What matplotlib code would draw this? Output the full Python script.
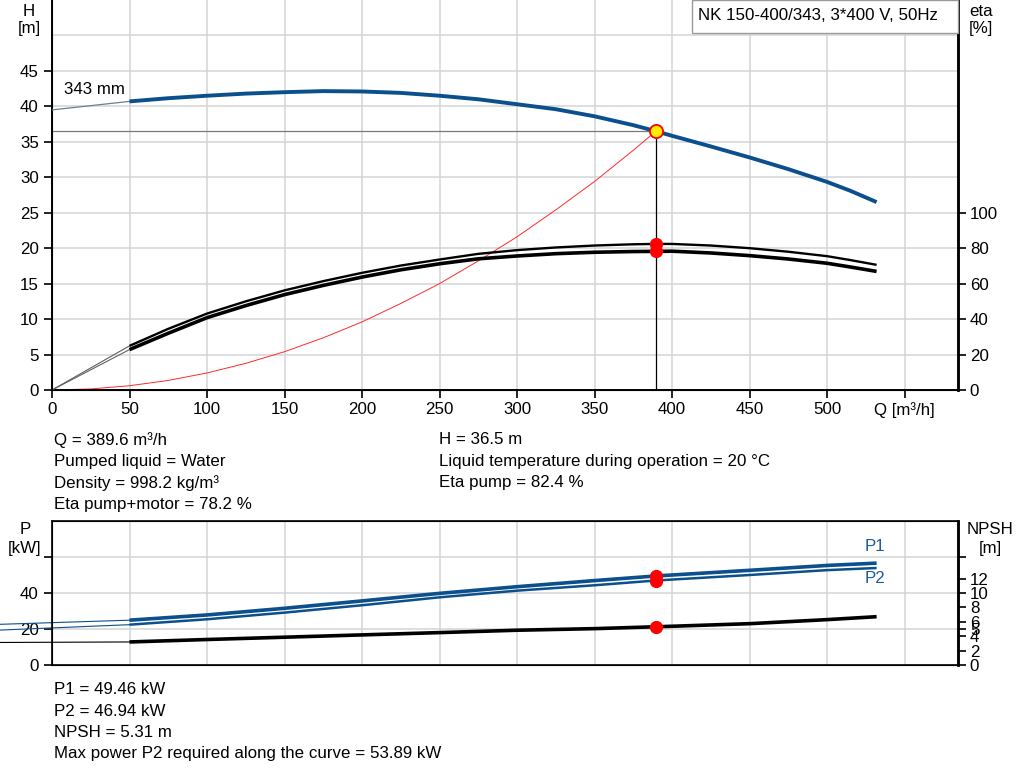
import matplotlib
matplotlib.use("Agg")
import matplotlib.pyplot as plt

plt.rcParams['font.family'] = ['Liberation Sans', 'DejaVu Sans']
FS = 12.2

# ---------------- data ----------------
q_ticks = [0, 50, 100, 150, 200, 250, 300, 350, 400, 450, 500, 550]
q_tick_labels = ['0', '50', '100', '150', '200', '250', '300', '350', '400', '450', '500', 'Q [m³/h]']

q_curve = [50, 75, 100, 125, 150, 175, 200, 225, 250, 275, 300, 325, 350, 375,
           389.6, 400, 425, 450, 475, 500, 515, 532]
head = [40.7, 41.15, 41.5, 41.8, 42.0, 42.15, 42.1, 41.9, 41.5, 41.0, 40.3, 39.6, 38.6, 37.35,
        36.5, 35.85, 34.35, 32.8, 31.15, 29.35, 28.1, 26.5]
eta_pump = [24.9, 34.5, 43.1, 50.0, 56.2, 61.4, 66.1, 70.2, 73.6, 76.8, 78.9, 80.4, 81.5, 82.2,
            82.4, 82.4, 81.5, 80.0, 78.0, 75.5, 73.3, 70.6]
eta_total = [22.8, 32.0, 40.8, 47.6, 53.8, 59.0, 63.7, 67.8, 71.2, 74.0, 75.6, 76.9, 77.7, 78.1,
             78.2, 78.3, 77.3, 75.8, 73.9, 71.5, 69.4, 66.9]

q_head_ext = [0, 50]
head_ext = [39.5, 40.7]
q_eta_ext = [0, 50]
eta_pump_ext = [0, 24.9]
eta_total_ext = [0, 22.8]

q_sys = [0, 25, 50, 75, 100, 125, 150, 175, 200, 225, 250, 275, 300, 325, 350, 375, 389.6]
h_sys = [0, 0.15, 0.6, 1.35, 2.4, 3.76, 5.4, 7.36, 9.6, 12.2, 15.0, 18.2, 21.6, 25.4, 29.4, 33.8, 36.5]

q_p = [50, 100, 150, 200, 250, 300, 350, 389.6, 450, 500, 532]
p1 = [24.9, 27.8, 31.5, 35.6, 39.8, 43.5, 46.9, 49.46, 52.6, 55.3, 56.6]
p2 = [22.4, 25.4, 29.1, 33.2, 37.6, 41.3, 44.3, 46.94, 50.0, 52.7, 53.89]
q_p_ext = [-33.5, 50]
p1_ext = [22.6, 24.9]
p2_ext = [19.4, 22.4]

q_npsh = [50, 100, 150, 200, 250, 300, 350, 389.6, 400, 450, 500, 532]
npsh = [3.2, 3.54, 3.86, 4.18, 4.5, 4.83, 5.05, 5.31, 5.38, 5.74, 6.3, 6.71]
npsh_ext = [3.13, 3.2]

duty_q = 389.6
duty_h = 36.5
duty_eta_pump = 82.4
duty_eta_total = 78.2
duty_p1 = 49.46
duty_p2 = 46.94
duty_npsh = 5.31

h_ticks = [0, 5, 10, 15, 20, 25, 30, 35, 40, 45]
eta_ticks = [0, 20, 40, 60, 80, 100]
p_ticks = [0, 20, 40, 60]
p_tick_labels = ['0', '20', '40', '']
npsh_ticks = [0, 2, 4, 5, 6, 8, 10, 12, 15]
npsh_tick_labels = ['0', '2', '4', '5', '6', '8', '10', '12', '']

title = 'NK 150-400/343, 3*400 V, 50Hz'
info_left_top = ['Q = 389.6 m³/h', 'Pumped liquid = Water', 'Density = 998.2 kg/m³',
                 'Eta pump+motor = 78.2 %']
info_right_top = ['H = 36.5 m', 'Liquid temperature during operation = 20 °C', 'Eta pump = 82.4 %']
info_bottom = ['P1 = 49.46 kW', 'P2 = 46.94 kW', 'NPSH = 5.31 m',
               'Max power P2 required along the curve = 53.89 kW']

BLUE = '#0b4f8c'
GRID = '#d2d4d6'
W, Hpx = 1024, 781

def fx(px):
    return px / W

def fy(py):
    return 1 - py / Hpx

fig = plt.figure(figsize=(10.24, 7.81), dpi=100)

XMAX = (958 - 52) / 1.55

# ---------------- top chart ----------------
ax = fig.add_axes([fx(52), fy(390), fx(958) - fx(52), fy(0) - fy(390)])
ax.set_xlim(0, XMAX)
ax.set_ylim(0, 55)
for q in q_ticks[1:]:
    ax.axvline(q, color=GRID, lw=1.1, zorder=0)
for h in h_ticks[1:] + [50]:
    ax.axhline(h, color=GRID, lw=1.1, zorder=0)

ax.set_xticks(q_ticks)
ax.set_xticklabels(q_tick_labels)
ax.set_yticks(h_ticks)
ax.tick_params(axis='both', direction='out', length=5.5, width=1.2, labelsize=FS, pad=3)
ax.tick_params(axis='y', pad=4)
for s in ['left', 'bottom']:
    ax.spines[s].set_linewidth(1.4)
ax.spines['top'].set_visible(False)
ax.spines['right'].set_linewidth(1.8)

ax2 = ax.twinx()
ax2.set_ylim(0, 220)
ax2.set_yticks(eta_ticks)
ax2.tick_params(axis='y', direction='out', length=5.5, width=1.2, labelsize=FS, pad=3)
ax2.spines['right'].set_linewidth(1.8)
ax2.spines['top'].set_visible(False)

# system curve
ax.plot(q_sys, h_sys, color='#ff2a2a', lw=0.7, zorder=2)
# eta curves
ax2.plot(q_eta_ext, eta_pump_ext, color='#606060', lw=0.8, zorder=2)
ax2.plot(q_eta_ext, eta_total_ext, color='#606060', lw=0.8, zorder=2)
ax2.plot(q_curve, eta_pump, color='black', lw=1.7, solid_capstyle='butt', zorder=3)
ax2.plot(q_curve, eta_total, color='black', lw=2.6, solid_capstyle='butt', zorder=3)
# head curve
ax2.plot(q_head_ext, [v * 4 for v in head_ext], color='#6a7f95', lw=0.9, zorder=3)
ax2.plot(q_curve, [v * 4 for v in head], color=BLUE, lw=2.8, solid_capstyle='butt', zorder=3)
# duty lines
ax.plot([0, duty_q], [duty_h, duty_h], color='#7a7a7a', lw=0.9, zorder=2)
ax.plot([duty_q, duty_q], [0, duty_h], color='black', lw=0.9, zorder=2)
ax2.plot([duty_q], [duty_eta_pump], 'o', color='#ff0000', ms=8.5, zorder=5)
ax2.plot([duty_q], [duty_eta_total], 'o', color='#ff0000', ms=8.5, zorder=5)
ax2.plot([duty_q], [duty_h * 4], 'o', mfc='#ffee00', mec='#ff0000', mew=1.3, ms=9.5, zorder=6)

ax.text(8, 42.4, '343 mm', fontsize=FS, va='center', ha='left')

# title box
fig.patches.append(plt.Rectangle((fx(692), fy(33)), fx(958) - fx(692), fy(0) - fy(33),
                                 transform=fig.transFigure, fill=True, facecolor='white',
                                 edgecolor='#9a9a9a', lw=1.0, zorder=10))
fig.text(fx(698), fy(15), title, fontsize=FS, va='center', ha='left', zorder=11)

fig.text(fx(29), fy(11), 'H', fontsize=FS, ha='center', va='center')
fig.text(fx(29), fy(29), '[m]', fontsize=FS, ha='center', va='center')
fig.text(fx(981), fy(11), 'eta', fontsize=FS, ha='center', va='center')
fig.text(fx(981), fy(29), '[%]', fontsize=FS, ha='center', va='center')

# info text top
for i, t in enumerate(info_left_top):
    fig.text(fx(54), fy(440 + i * 21.5), t, fontsize=FS, va='center', ha='left')
for i, t in enumerate(info_right_top):
    fig.text(fx(439), fy(440 + i * 21.5), t, fontsize=FS, va='center', ha='left')

# ---------------- bottom chart ----------------
bx = fig.add_axes([fx(52), fy(665), fx(958) - fx(52), fy(521) - fy(665)])
bx.set_xlim(0, XMAX)
bx.set_ylim(0, 80)
for q in q_ticks[1:]:
    bx.axvline(q, color=GRID, lw=1.1, zorder=0)
for p in p_ticks[1:]:
    bx.axhline(p, color=GRID, lw=1.1, zorder=0)
bx.set_xticks([])
bx.set_yticks(p_ticks)
bx.set_yticklabels(p_tick_labels)
bx.tick_params(axis='y', direction='out', length=5.5, width=1.2, labelsize=FS, pad=4)
for s in ['left', 'bottom', 'top']:
    bx.spines[s].set_linewidth(1.2)
bx.spines['right'].set_linewidth(1.8)

bx2 = bx.twinx()
bx2.set_ylim(0, 20)
bx2.set_yticks(npsh_ticks)
bx2.set_yticklabels(npsh_tick_labels)
bx2.tick_params(axis='y', direction='out', length=5.5, width=1.2, labelsize=FS, pad=3)
bx2.spines['right'].set_linewidth(1.8)

bx.plot(q_p_ext, p1_ext, color=BLUE, lw=0.8, clip_on=False, zorder=2)
bx.plot(q_p_ext, p2_ext, color=BLUE, lw=0.8, clip_on=False, zorder=2)
bx.plot(q_p, p1, color=BLUE, lw=2.6, solid_capstyle='butt', zorder=3)
bx.plot(q_p, p2, color=BLUE, lw=1.8, solid_capstyle='butt', zorder=3)
bx2.plot(q_p_ext, npsh_ext, color='black', lw=0.8, clip_on=False, zorder=2)
bx2.plot(q_npsh, npsh, color='black', lw=2.6, solid_capstyle='butt', zorder=3)

bx.plot([duty_q], [duty_p1], 'o', color='#ff0000', ms=8.5, zorder=5)
bx.plot([duty_q], [duty_p2], 'o', color='#ff0000', ms=8.5, zorder=5)
bx2.plot([duty_q], [duty_npsh], 'o', color='#ff0000', ms=8.5, zorder=5)

bx.text(531, 66, 'P1', fontsize=FS, color='#1d5c99', ha='center', va='center')
bx.text(531, 48.3, 'P2', fontsize=FS, color='#1d5c99', ha='center', va='center')

fig.text(fx(25), fy(530), 'P', fontsize=FS, ha='center', va='center')
fig.text(fx(25), fy(549), '[kW]', fontsize=FS, ha='center', va='center')
fig.text(fx(990), fy(530), 'NPSH', fontsize=FS, ha='center', va='center')
fig.text(fx(990), fy(549), '[m]', fontsize=FS, ha='center', va='center')

for i, t in enumerate(info_bottom):
    fig.text(fx(54), fy(690 + i * 21.3), t, fontsize=FS, va='center', ha='left')

fig.savefig('out.png', dpi=100)
